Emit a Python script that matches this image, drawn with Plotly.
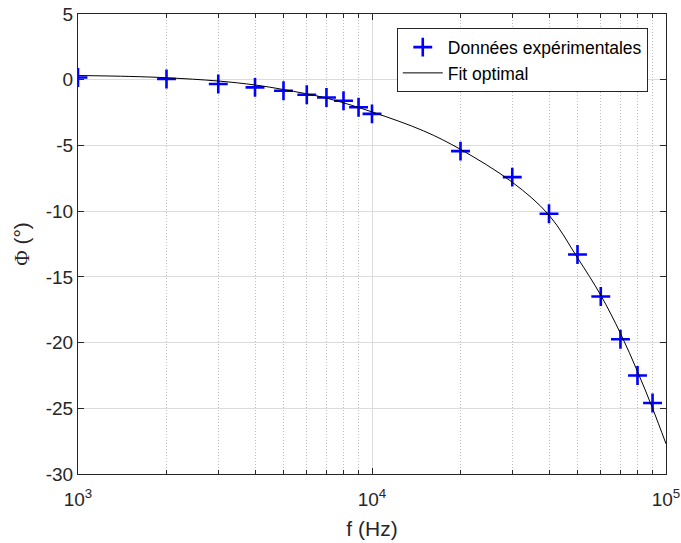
import plotly.graph_objects as go

# Experimental data
freq_hz = [1000, 2000, 3000, 4000, 5000, 6000, 7000, 8000, 9000, 10000,
           20000, 30000, 40000, 50000, 60000, 70000, 80000, 90000]
phase_deg = [0.17, 0.05, -0.33, -0.58, -0.84, -1.14, -1.35, -1.6, -2.1, -2.6,
             -5.43, -7.41, -10.2, -13.3, -16.5, -19.75, -22.5, -24.6]

# Fit curve samples
fit_freq_hz = [1000, 1500, 2000, 3000, 4000, 5000, 7000, 10000, 15000, 20000,
               30000, 40000, 50000, 60000, 70000, 80000, 90000, 100000]
fit_phase_deg = [0.32, 0.25, 0.15, -0.1, -0.4, -0.75, -1.4, -2.45, -3.9, -5.3,
                 -7.8, -10.3, -13.55, -16.4, -19.3, -22.2, -25.0, -27.7]

x_major_ticks = [1000, 10000, 100000]
x_major_labels = ["10<sup>3</sup>", "10<sup>4</sup>", "10<sup>5</sup>"]
x_minor_ticks = [2000, 3000, 4000, 5000, 6000, 7000, 8000, 9000,
                 20000, 30000, 40000, 50000, 60000, 70000, 80000, 90000]
y_ticks = [-30, -25, -20, -15, -10, -5, 0, 5]
y_labels = ["-30", "-25", "-20", "-15", "-10", "-5", "0", "5"]

FONT = "Liberation Sans, Arial, Helvetica, sans-serif"
AX = "#262626"

fig = go.Figure()
fig.add_trace(go.Scatter(
    x=freq_hz, y=phase_deg, mode="markers", name="Données expérimentales",
    marker=dict(symbol="cross-thin", size=13.5, color="#0000ff",
                line=dict(color="#0000ff", width=2.6)),
))
fig.add_trace(go.Scatter(
    x=fit_freq_hz, y=fit_phase_deg, mode="lines", name="Fit optimal",
    line=dict(color="black", width=1, shape="spline", smoothing=1.0),
))

fig.update_layout(
    width=681, height=543,
    margin=dict(l=78, r=15, t=14, b=69),
    paper_bgcolor="white", plot_bgcolor="white",
    font=dict(family=FONT, size=19, color=AX),
    showlegend=True,
    legend=dict(
        x=0.969, y=0.969, xanchor="right", yanchor="top",
        bgcolor="white", bordercolor=AX, borderwidth=1,
        font=dict(size=17.5, color="black"), traceorder="normal",
        itemwidth=40, tracegroupgap=0,
    ),
    xaxis=dict(
        type="log", range=[3, 5], automargin=False,
        tickvals=x_major_ticks, ticktext=x_major_labels,
        ticks="inside", ticklen=6, tickcolor=AX, ticklabelstandoff=8,
        showline=True, linecolor=AX, linewidth=1, mirror="ticks",
        showgrid=True, gridcolor="#dcdcdc", gridwidth=1,
        zeroline=False,
        tickfont=dict(size=19, family=FONT, color=AX),
        title=dict(text="f (Hz)", font=dict(size=21, family=FONT, color=AX), standoff=12),
        minor=dict(tickvals=x_minor_ticks, ticks="inside", ticklen=4, tickcolor=AX,
                   showgrid=True, gridcolor="#bdbdbd", griddash="1px,2px", gridwidth=1),
    ),
    yaxis=dict(
        range=[-30, 5], tickvals=y_ticks, ticktext=y_labels, automargin=False,
        ticks="inside", ticklen=6, tickcolor=AX,
        showline=True, linecolor=AX, linewidth=1, mirror="ticks",
        showgrid=True, gridcolor="#dcdcdc", gridwidth=1,
        zeroline=False,
        tickfont=dict(size=19, family=FONT, color=AX),
        title=dict(text="<span style='font-family:Liberation Serif, Times New Roman, serif'>Φ</span> (°)",
                   font=dict(size=21, family=FONT, color=AX), standoff=10),
    ),
)

fig.write_html("out.html", config={"displayModeBar": False},
               post_script="document.body.style.margin='0';")
